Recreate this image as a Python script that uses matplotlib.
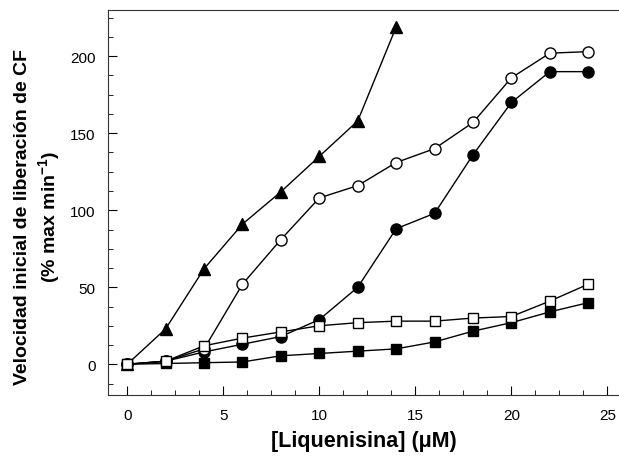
import matplotlib
matplotlib.use("Agg")
import matplotlib.pyplot as plt
from matplotlib.ticker import MultipleLocator

plt.rcParams['font.family'] = ['Liberation Sans', 'DejaVu Sans']

# concentraciones (uM)
conc = [0, 2, 4, 6, 8, 10, 12, 14, 16, 18, 20, 22, 24]
conc_tri = [0, 2, 4, 6, 8, 10, 12, 14]

# series
tri_fill = [0, 23, 62, 91, 112, 135, 158, 219]
circ_open = [0, 2, 10, 52, 81, 108, 116, 131, 140, 157, 186, 202, 203]
circ_fill = [0, 2, 8, 13, 18, 29, 50, 88, 98, 136, 170, 190, 190]
sq_open = [0, 2, 12, 17, 21, 25, 27, 28, 28, 30, 31, 41, 52]
sq_fill = [0, 0.5, 1, 1.5, 5.5, 7, 8.5, 10, 14.5, 21.5, 27, 34, 40]

fig = plt.figure(figsize=(6.19, 4.6), dpi=100)
ax = fig.add_axes([0.1745, 0.139, 0.8255, 0.837])

kw = dict(color='black', lw=1.0, markeredgecolor='black', markeredgewidth=1.0)
ax.plot(conc, circ_fill, marker='o', ms=8, markerfacecolor='black', **kw)
ax.plot(conc, circ_open, marker='o', ms=8, markerfacecolor='white', **kw)
ax.plot(conc_tri, tri_fill, marker='^', ms=8.5, markerfacecolor='black', **kw)
ax.plot(conc, sq_fill, marker='s', ms=7, markerfacecolor='black', **kw)
ax.plot(conc, sq_open, marker='s', ms=7, markerfacecolor='white', **kw)

ax.set_xlim(-1, 25.6)
ax.set_ylim(-20, 230)
ax.xaxis.set_major_locator(MultipleLocator(5))
ax.xaxis.set_minor_locator(MultipleLocator(1.25))
ax.yaxis.set_major_locator(MultipleLocator(50))
ax.yaxis.set_minor_locator(MultipleLocator(12.5))
ax.tick_params(which='both', direction='in', top=False, right=False,
               labelsize=11, pad=9)
ax.tick_params(which='major', length=6.5)
ax.tick_params(which='minor', length=3.5)
ax.spines['right'].set_visible(False)
for s in ['left', 'bottom', 'top']:
    ax.spines[s].set_color('#333333')

ax.set_xlabel('[Liquenisina] (\u03bcM)', fontsize=15.5, fontweight='bold', labelpad=6)
fig.text(0.062, 0.528,
         'Velocidad inicial de liberaci\u00f3n de CF\n(% max min$^{\\mathregular{-1}}$)',
         rotation=90, ha='center', va='center', multialignment='center',
         fontsize=14, fontweight='bold', linespacing=1.3)

fig.savefig('out.png', dpi=100)
